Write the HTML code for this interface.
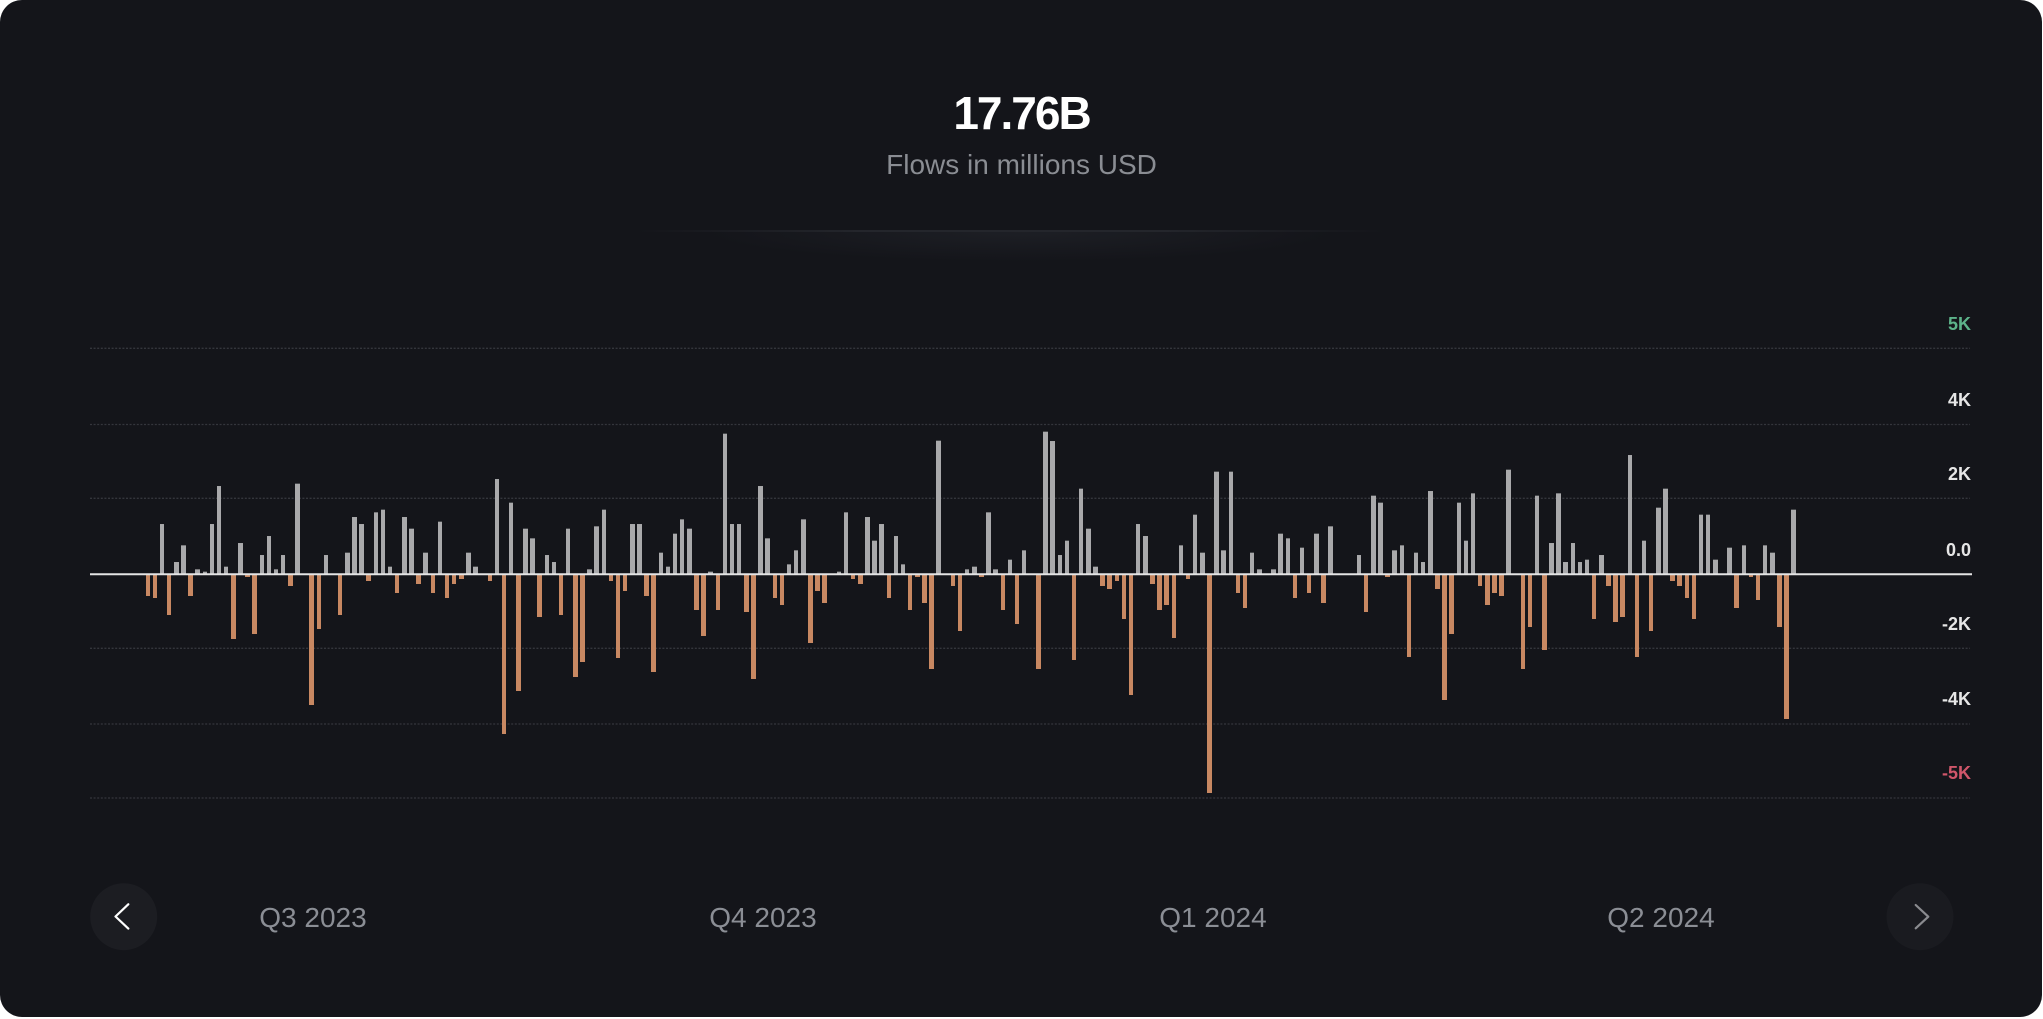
<!DOCTYPE html>
<html>
<head>
<meta charset="utf-8">
<style>
html,body{margin:0;padding:0;background:#ffffff;}
body{width:2043px;height:1019px;position:relative;overflow:hidden;font-family:"Liberation Sans",sans-serif;}
.card{position:absolute;left:0;top:0;width:2042px;height:1017px;border-radius:22px;background:#14151a;overflow:hidden;}
.title{position:absolute;left:0;width:2043px;top:90px;text-align:center;font-size:46px;line-height:46px;font-weight:bold;color:#ffffff;letter-spacing:-2px;}
.sub{position:absolute;left:0;width:2043px;top:151px;text-align:center;font-size:28px;line-height:28px;color:#8a8d93;}
.sep{position:absolute;left:636px;width:750px;top:230px;height:2px;background:linear-gradient(90deg,rgba(40,42,48,0),#24262c 30%,#24262c 70%,rgba(40,42,48,0));}
.glow{position:absolute;left:700px;width:640px;top:232px;height:30px;background:radial-gradient(ellipse at 50% 0%,rgba(30,32,38,0.9),rgba(20,21,26,0) 70%);}
.yl{position:absolute;right:71px;font-size:18px;line-height:18px;font-weight:bold;color:#e6e6e6;text-align:right;}
.q{position:absolute;top:904px;width:200px;margin-left:-100px;text-align:center;font-size:28px;line-height:28px;color:#8b8e95;}
.bars{position:absolute;left:145.5px;top:574.3px;height:0;display:flex;align-items:flex-start;}
.bars i{display:block;flex:none;width:4.609375px;margin-right:2.515625px;height:calc(var(--v,0)*0.33333px);}
.bars i.p{background:#a9a9ab;transform:translateY(-100%);}
.bars i.n{background:#c88862;}
</style>
</head>
<body>
<div class="card">
  <div class="title">17.76B</div>
  <div class="sub">Flows in millions USD</div>
  <div class="sep"></div>
  <div class="glow"></div>

  <svg width="2043" height="1019" style="position:absolute;left:0;top:0">
    <g stroke="#34363c" stroke-width="1.3" stroke-dasharray="2 1.6" fill="none">
      <line x1="90" y1="348.3" x2="1970" y2="348.3"/>
      <line x1="90" y1="424.5" x2="1970" y2="424.5"/>
      <line x1="90" y1="498.3" x2="1970" y2="498.3"/>
      <line x1="90" y1="648.3" x2="1970" y2="648.3"/>
      <line x1="90" y1="724" x2="1970" y2="724"/>
      <line x1="90" y1="798" x2="1970" y2="798"/>
    </g>
  </svg>

  <div class="bars">
<i class="n" style="--v:64"></i><i class="n" style="--v:71"></i><i class="p" style="--v:150"></i><i class="n" style="--v:121"></i><i class="p" style="--v:36"></i><i class="p" style="--v:86"></i><i class="n" style="--v:64"></i><i class="p" style="--v:14"></i><i class="p" style="--v:7"></i><i class="p" style="--v:150"></i>
<i class="p" style="--v:264"></i><i class="p" style="--v:22"></i><i class="n" style="--v:193"></i><i class="p" style="--v:93"></i><i class="n" style="--v:7"></i><i class="n" style="--v:178"></i><i class="p" style="--v:57"></i><i class="p" style="--v:114"></i><i class="p" style="--v:14"></i><i class="p" style="--v:57"></i>
<i class="n" style="--v:35"></i><i class="p" style="--v:271"></i><i></i><i class="n" style="--v:392"></i><i class="n" style="--v:164"></i><i class="p" style="--v:57"></i><i></i><i class="n" style="--v:121"></i><i class="p" style="--v:64"></i><i class="p" style="--v:171"></i>
<i class="p" style="--v:150"></i><i class="n" style="--v:21"></i><i class="p" style="--v:185"></i><i class="p" style="--v:193"></i><i class="p" style="--v:22"></i><i class="n" style="--v:57"></i><i class="p" style="--v:171"></i><i class="p" style="--v:136"></i><i class="n" style="--v:28"></i><i class="p" style="--v:64"></i>
<i class="n" style="--v:57"></i><i class="p" style="--v:157"></i><i class="n" style="--v:71"></i><i class="n" style="--v:28"></i><i class="n" style="--v:14"></i><i class="p" style="--v:64"></i><i class="p" style="--v:22"></i><i></i><i class="n" style="--v:21"></i><i class="p" style="--v:285"></i>
<i class="n" style="--v:478"></i><i class="p" style="--v:214"></i><i class="n" style="--v:349"></i><i class="p" style="--v:136"></i><i class="p" style="--v:107"></i><i class="n" style="--v:128"></i><i class="p" style="--v:57"></i><i class="p" style="--v:36"></i><i class="n" style="--v:121"></i><i class="p" style="--v:136"></i>
<i class="n" style="--v:307"></i><i class="n" style="--v:264"></i><i class="p" style="--v:14"></i><i class="p" style="--v:143"></i><i class="p" style="--v:193"></i><i class="n" style="--v:21"></i><i class="n" style="--v:250"></i><i class="n" style="--v:50"></i><i class="p" style="--v:150"></i><i class="p" style="--v:150"></i>
<i class="n" style="--v:64"></i><i class="n" style="--v:292"></i><i class="p" style="--v:64"></i><i class="p" style="--v:22"></i><i class="p" style="--v:121"></i><i class="p" style="--v:164"></i><i class="p" style="--v:136"></i><i class="n" style="--v:107"></i><i class="n" style="--v:185"></i><i class="p" style="--v:7"></i>
<i class="n" style="--v:107"></i><i class="p" style="--v:421"></i><i class="p" style="--v:150"></i><i class="p" style="--v:150"></i><i class="n" style="--v:114"></i><i class="n" style="--v:313"></i><i class="p" style="--v:264"></i><i class="p" style="--v:107"></i><i class="n" style="--v:71"></i><i class="n" style="--v:92"></i>
<i class="p" style="--v:29"></i><i class="p" style="--v:71"></i><i class="p" style="--v:164"></i><i class="n" style="--v:206"></i><i class="n" style="--v:50"></i><i class="n" style="--v:85"></i><i></i><i class="p" style="--v:7"></i><i class="p" style="--v:185"></i><i class="n" style="--v:14"></i>
<i class="n" style="--v:28"></i><i class="p" style="--v:171"></i><i class="p" style="--v:100"></i><i class="p" style="--v:150"></i><i class="n" style="--v:71"></i><i class="p" style="--v:114"></i><i class="p" style="--v:29"></i><i class="n" style="--v:107"></i><i class="n" style="--v:7"></i><i class="n" style="--v:85"></i>
<i class="n" style="--v:285"></i><i class="p" style="--v:400"></i><i></i><i class="n" style="--v:35"></i><i class="n" style="--v:171"></i><i class="p" style="--v:14"></i><i class="p" style="--v:22"></i><i class="n" style="--v:7"></i><i class="p" style="--v:185"></i><i class="p" style="--v:14"></i>
<i class="n" style="--v:107"></i><i class="p" style="--v:43"></i><i class="n" style="--v:149"></i><i class="p" style="--v:71"></i><i></i><i class="n" style="--v:285"></i><i class="p" style="--v:427"></i><i class="p" style="--v:399"></i><i class="p" style="--v:57"></i><i class="p" style="--v:100"></i>
<i class="n" style="--v:256"></i><i class="p" style="--v:256"></i><i class="p" style="--v:136"></i><i class="p" style="--v:22"></i><i class="n" style="--v:35"></i><i class="n" style="--v:43"></i><i class="n" style="--v:21"></i><i class="n" style="--v:135"></i><i class="n" style="--v:363"></i><i class="p" style="--v:150"></i>
<i class="p" style="--v:114"></i><i class="n" style="--v:28"></i><i class="n" style="--v:107"></i><i class="n" style="--v:92"></i><i class="n" style="--v:192"></i><i class="p" style="--v:86"></i><i class="n" style="--v:14"></i><i class="p" style="--v:178"></i><i class="p" style="--v:64"></i><i class="n" style="--v:655"></i>
<i class="p" style="--v:307"></i><i class="p" style="--v:71"></i><i class="p" style="--v:307"></i><i class="n" style="--v:57"></i><i class="n" style="--v:100"></i><i class="p" style="--v:64"></i><i class="p" style="--v:14"></i><i></i><i class="p" style="--v:14"></i><i class="p" style="--v:121"></i>
<i class="p" style="--v:107"></i><i class="n" style="--v:71"></i><i class="p" style="--v:79"></i><i class="n" style="--v:57"></i><i class="p" style="--v:121"></i><i class="n" style="--v:85"></i><i class="p" style="--v:143"></i><i></i><i></i><i></i>
<i class="p" style="--v:57"></i><i class="n" style="--v:114"></i><i class="p" style="--v:235"></i><i class="p" style="--v:214"></i><i class="n" style="--v:7"></i><i class="p" style="--v:71"></i><i class="p" style="--v:86"></i><i class="n" style="--v:249"></i><i class="p" style="--v:64"></i><i class="p" style="--v:36"></i>
<i class="p" style="--v:249"></i><i class="n" style="--v:43"></i><i class="n" style="--v:378"></i><i class="n" style="--v:178"></i><i class="p" style="--v:214"></i><i class="p" style="--v:100"></i><i class="p" style="--v:242"></i><i class="n" style="--v:35"></i><i class="n" style="--v:92"></i><i class="n" style="--v:57"></i>
<i class="n" style="--v:64"></i><i class="p" style="--v:313"></i><i></i><i class="n" style="--v:285"></i><i class="n" style="--v:157"></i><i class="p" style="--v:235"></i><i class="n" style="--v:228"></i><i class="p" style="--v:93"></i><i class="p" style="--v:242"></i><i class="p" style="--v:36"></i>
<i class="p" style="--v:93"></i><i class="p" style="--v:36"></i><i class="p" style="--v:43"></i><i class="n" style="--v:135"></i><i class="p" style="--v:57"></i><i class="n" style="--v:35"></i><i class="n" style="--v:142"></i><i class="n" style="--v:128"></i><i class="p" style="--v:357"></i><i class="n" style="--v:249"></i>
<i class="p" style="--v:100"></i><i class="n" style="--v:171"></i><i class="p" style="--v:199"></i><i class="p" style="--v:256"></i><i class="n" style="--v:21"></i><i class="n" style="--v:35"></i><i class="n" style="--v:71"></i><i class="n" style="--v:135"></i><i class="p" style="--v:178"></i><i class="p" style="--v:178"></i>
<i class="p" style="--v:43"></i><i></i><i class="p" style="--v:79"></i><i class="n" style="--v:100"></i><i class="p" style="--v:86"></i><i class="n" style="--v:7"></i><i class="n" style="--v:78"></i><i class="p" style="--v:86"></i><i class="p" style="--v:64"></i><i class="n" style="--v:157"></i>
<i class="n" style="--v:435"></i><i class="p" style="--v:193"></i>
  </div>

  <svg width="2043" height="1019" style="position:absolute;left:0;top:0">
    <line x1="90" y1="574.3" x2="1972" y2="574.3" stroke="#e4e4e4" stroke-width="2"/>
    <circle cx="123.7" cy="916.7" r="33.5" fill="#1c1d22"/>
    <polyline points="128.3,904.3 115.5,916.5 128.3,928.6" fill="none" stroke="#ffffff" stroke-width="2.2" stroke-linecap="round" stroke-linejoin="round"/>
    <circle cx="1920" cy="916.7" r="33.5" fill="#1a1b20"/>
    <polyline points="1915.7,905 1928.3,916.7 1915.7,928.3" fill="none" stroke="#8a8b8f" stroke-width="2.2" stroke-linecap="round" stroke-linejoin="round"/>
  </svg>

  <div class="yl" style="top:315px;color:#5db38a">5K</div>
  <div class="yl" style="top:390.6px">4K</div>
  <div class="yl" style="top:464.6px">2K</div>
  <div class="yl" style="top:540.6px">0.0</div>
  <div class="yl" style="top:614.6px">-2K</div>
  <div class="yl" style="top:690.3px">-4K</div>
  <div class="yl" style="top:764px;color:#d0566a">-5K</div>

  <div class="q" style="left:313px">Q3 2023</div>
  <div class="q" style="left:763px">Q4 2023</div>
  <div class="q" style="left:1213px">Q1 2024</div>
  <div class="q" style="left:1661px">Q2 2024</div>
</div>
</body>
</html>
